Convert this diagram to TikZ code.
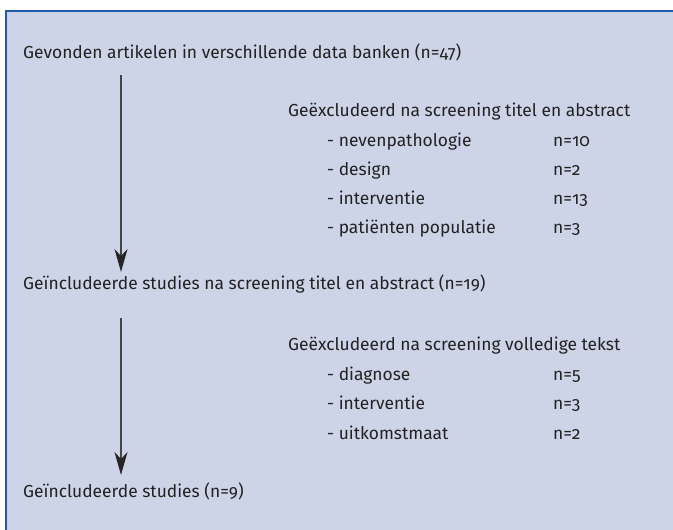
\documentclass[tikz,border=0pt]{standalone}
\usepackage{fontspec}
\setmainfont[Numbers=OldStyle]{Fira Sans}
\usetikzlibrary{arrows.meta}
\definecolor{bgfill}{HTML}{CED4E8}
\definecolor{frame}{HTML}{1E5AA8}
\definecolor{txt}{HTML}{222222}
\definecolor{arr}{HTML}{444444}
\begin{document}
\begin{tikzpicture}[x=1pt,y=-1pt,
  lbl/.style={anchor=base west,inner sep=0pt,text=txt,font=\fontsize{17.4}{20}\selectfont},
  flow/.style={draw=arr,line width=1.6pt,-{Stealth[length=23pt,width=13pt,inset=7pt,color=black!85]}}]
\useasboundingbox (0,0) rectangle (673,530);
\fill[bgfill] (6,11) rectangle (673,530);
\draw[frame,line width=2pt] (6,530) -- (6,11) -- (673,11);
% main column
\node[lbl] (t1) at (23,58) {Gevonden artikelen in verschillende data banken (n=47)};
\node[lbl] (t2) at (23,289) {Geïncludeerde studies na screening titel en abstract (n=19)};
\node[lbl] (t3) at (23,497) {Geïncludeerde studies (n=9)};
\coordinate (a1s) at (121,75);
\coordinate (a1e) at (121,272);
\coordinate (a2s) at (121,318);
\coordinate (a2e) at (121,475);
\draw[flow] (a1s) -- (a1e);
\draw[flow] (a2s) -- (a2e);
% exclusion block 1
\node[lbl] (h1) at (288,116) {Geëxcludeerd na screening titel en abstract};
\node[lbl] (i11) at (327,146) {- nevenpathologie};
\node[lbl] (i12) at (327,175) {- design};
\node[lbl] (i13) at (327,204) {- interventie};
\node[lbl] (i14) at (327,233) {- patiënten populatie};
\node[lbl] (n11) at (553,146) {n=10};
\node[lbl] (n12) at (553,175) {n=2};
\node[lbl] (n13) at (553,204) {n=13};
\node[lbl] (n14) at (553,233) {n=3};
% exclusion block 2
\node[lbl] (h2) at (288,350) {Geëxcludeerd na screening volledige tekst};
\node[lbl] (i21) at (327,380) {- diagnose};
\node[lbl] (i22) at (327,409) {- interventie};
\node[lbl] (i23) at (327,439) {- uitkomstmaat};
\node[lbl] (n21) at (553,380) {n=5};
\node[lbl] (n22) at (553,409) {n=3};
\node[lbl] (n23) at (553,439) {n=2};
\end{tikzpicture}
\end{document}
